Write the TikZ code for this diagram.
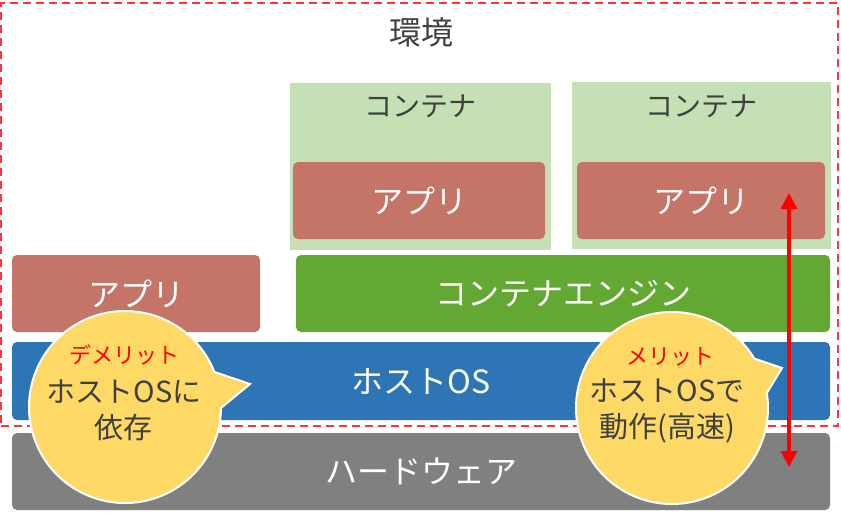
\documentclass[tikz,border=0pt]{standalone}
\usepackage{fontspec}
\setmainfont{Noto Sans CJK JP}
\usepackage{tikz}
\usetikzlibrary{arrows.meta,shapes.callouts}
\definecolor{envRed}{RGB}{255,51,51}
\definecolor{ctnGreen}{RGB}{197,224,180}
\definecolor{appRed}{RGB}{196,117,104}
\definecolor{engGreen}{RGB}{98,168,50}
\definecolor{hostBlue}{RGB}{46,117,182}
\definecolor{hwGray}{RGB}{128,128,128}
\definecolor{bubYellow}{RGB}{255,217,102}
\definecolor{txtGray}{RGB}{64,64,64}

\begin{document}
\begin{tikzpicture}[x=1pt,y=-1pt,>={Triangle[length=16pt,width=16pt]},
  envbox/.style={draw=envRed,line width=2.5pt,dash pattern=on 8pt off 5pt,inner sep=0pt},
  ctnbox/.style={fill=ctnGreen,inner sep=0pt},
  layer/.style={rounded corners=5pt,inner sep=0pt,text=white,font=\fontsize{32}{36}\selectfont},
  darktxt/.style={text=txtGray,inner sep=0pt},
  bubble/.style={ellipse callout,fill=bubYellow,draw=white,line width=2pt,minimum size=192pt,inner sep=0pt,callout pointer arc=22},
  bubtitle/.style={text=red,inner sep=0pt,font=\fontsize{22}{26}\selectfont},
  bubtext/.style={text=txtGray,inner sep=0pt,align=center,font=\fontsize{29}{36}\selectfont}]
\useasboundingbox (0,0) rectangle (841,512);

\node[envbox,minimum width=837pt,minimum height=423pt] (env) at (419.5,214.5) {};
\node[darktxt,font=\fontsize{32}{36}\selectfont] (envlbl) at (421,32) {環境};

\node[ctnbox,minimum width=261pt,minimum height=167pt] (ctn1) at (420.5,166.5) {};
\node[ctnbox,minimum width=259pt,minimum height=167pt] (ctn2) at (701.5,165.5) {};
\node[darktxt,font=\fontsize{28}{32}\selectfont] (ctnlbl1) at (420.5,106) {コンテナ};
\node[darktxt,font=\fontsize{28}{32}\selectfont] (ctnlbl2) at (701.5,106) {コンテナ};

\node[layer,fill=appRed,minimum width=252pt,minimum height=77pt] (app1) at (419,200.5) {アプリ};
\node[layer,fill=appRed,minimum width=248pt,minimum height=77pt] (app2) at (701,200.5) {アプリ};
\node[layer,fill=appRed,minimum width=248pt,minimum height=77pt] (app0) at (136,293.5) {アプリ};
\node[layer,fill=engGreen,minimum width=534pt,minimum height=77pt] (engine) at (563,293.5) {コンテナエンジン};
\node[layer,fill=hostBlue,minimum width=818pt,minimum height=78pt] (host) at (421,381) {ホストOS};
\node[layer,fill=hwGray,minimum width=818pt,minimum height=77pt] (hw) at (421,471.5) {ハードウェア};

\coordinate (tip1) at (250,384);
\coordinate (tip2) at (782,368);
\node[bubble,callout absolute pointer={(tip1)}] (demerit) at (125,407) {};
\node[bubble,callout absolute pointer={(tip2)}] (merit) at (672,408) {};
\node[bubtitle] (demeritT) at (124,355) {デメリット};
\node[bubtext] (demeritX) at (124,410) {ホストOSに\\依存};
\node[bubtitle] (meritT) at (670,357) {メリット};
\node[bubtext] (meritX) at (667,411) {ホストOSで\\動作(高速)};

\coordinate (arrTop) at (789,193);
\coordinate (arrBot) at (789,467);
\draw[<->,red,line width=3.5pt] (arrTop)--(arrBot);
\end{tikzpicture}
\end{document}
